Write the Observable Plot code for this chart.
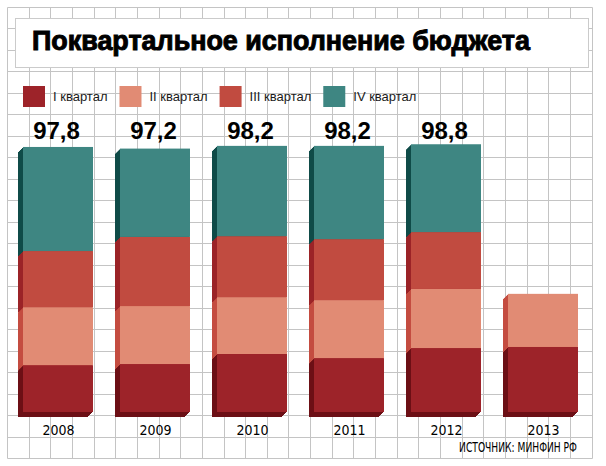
<!DOCTYPE html>
<html>
<head>
<meta charset="utf-8">
<script src="https://cdn.jsdelivr.net/npm/d3@7"></script>
<script src="https://cdn.jsdelivr.net/npm/@observablehq/plot@0.6"></script>
<style>
  html, body { margin: 0; padding: 0; background: #fff; }
  #wrap { position: relative; width: 606px; height: 466px; overflow: hidden; background: #fff; }
  #wrap > svg { position: absolute; left: 0; }
</style>
</head>
<body>
<div id="wrap"></div>
<script>
// ---------- data ----------
const years = ["2008", "2009", "2010", "2011", "2012", "2013"];
const quarters = ["I квартал", "II квартал", "III квартал", "IV квартал"];
const q1 = [17.3, 17.7, 21.4, 19.9, 23.6, 24.0];
const q2 = [21.4, 21.4, 21.0, 21.4, 21.8, 19.6];
const q3 = [20.7, 25.5, 22.5, 22.5, 21.0, null];
const q4 = [38.4, 32.6, 33.3, 34.4, 32.4, null];
const totalYears = ["2008", "2009", "2010", "2011", "2012"];
const totals = [97.8, 97.2, 98.2, 98.2, 98.8];
const titleText = "Поквартальное исполнение бюджета";
const sourceText = "ИСТОЧНИК: МИНФИН РФ";

// colours
const frontColors = ["#9d2329", "#e18b74", "#c14b40", "#3e8682"];
const sideColors  = ["#6c0f15", "#c44c40", "#9b2327", "#0f4b48"];

// ---------- table (stacked) ----------
const series = [q1, q2, q3, q4];
const rows = [];
years.forEach((year, yi) => {
  let acc = 0;
  series.forEach((s, qi) => {
    const v = s[yi];
    if (v == null) return;
    rows.push({year, quarter: quarters[qi], qi, value: v, y1: acc, y2: acc + v});
    acc += v;
  });
});
const labels = totalYears.map((year, i) => ({year, total: totals[i]}));
const fmt = v => v.toFixed(1).replace(".", ",");

const wrap = d3.select("#wrap");

// ---------- background grid (decoration) ----------
const grid = wrap.append("svg").attr("width", 606).attr("height", 466).style("top", "0px");
const gx = d3.range(28).map(i => Math.round(7 + 21.65 * i) + 0.5);
const gy = d3.range(22).map(j => Math.round(6.5 + 21.5 * j) + 0.5);
grid.append("g").attr("stroke", "#c4c4c4").attr("stroke-width", 1)
  .call(g => g.selectAll("line.v").data(gx).join("line")
    .attr("x1", d => d).attr("x2", d => d).attr("y1", gy[0]).attr("y2", gy[gy.length - 1]))
  .call(g => g.selectAll("line.h").data(gy).join("line")
    .attr("y1", d => d).attr("y2", d => d).attr("x1", gx[0]).attr("x2", gx[gx.length - 1]));

// ---------- chart ----------
const depth = [5, 4, 3, 2, 1];
const sideMarks = [];
depth.forEach(k => {
  quarters.forEach((q, qi) => {
    sideMarks.push(Plot.barY(rows.filter(r => r.qi === qi), {
      x: "year", y1: "y1", y2: "y2", fill: sideColors[qi], dx: -k, dy: k
    }));
  });
});

const chart = Plot.plot({
  width: 606,
  height: 356,
  marginLeft: 23,
  marginRight: 28,
  marginTop: 31,
  marginBottom: 54,
  style: {background: "transparent", color: "#000", fontFamily: "'Liberation Sans Narrow', 'DejaVu Sans Condensed', 'Arial Narrow', sans-serif", fontSize: "14px", overflow: "visible"},
  x: {type: "band", domain: years, paddingInner: 27 / 97, paddingOuter: 0, tickSize: 0, tickPadding: 13, label: null},
  y: {domain: [0, 100], axis: null},
  color: {domain: quarters, range: frontColors},
  marks: [
    ...sideMarks,
    Plot.barY(rows, {x: "year", y1: "y1", y2: "y2", fill: "quarter"}),
    Plot.text(labels, {
      x: "year", text: d => fmt(d.total), frameAnchor: "top", lineAnchor: "bottom", dy: -3, dx: -2,
      fontSize: 24, fontWeight: "bold", fontFamily: "'Liberation Sans', Arial, sans-serif", fill: "#000"
    })
  ]
});
chart.style.top = "110px";
wrap.node().appendChild(chart);

// ---------- title, legend, source (overlay) ----------
const ov = wrap.append("svg").attr("width", 606).attr("height", 466).style("top", "0px");
ov.append("rect").attr("x", 15.5).attr("y", 18.5).attr("width", 573).attr("height", 49)
  .attr("fill", "#fff").attr("stroke", "#cbcbcb");
ov.append("text").attr("x", 32).attr("y", 50)
  .attr("font-family", "'Liberation Sans', Arial, sans-serif").attr("font-weight", "bold")
  .attr("font-size", 28).attr("fill", "#000").attr("stroke", "#000").attr("stroke-width", 1)
  .attr("textLength", 498).attr("lengthAdjust", "spacingAndGlyphs")
  .text(titleText);

let lx = 23;
quarters.forEach((q, i) => {
  ov.append("rect").attr("x", lx).attr("y", 86).attr("width", 22).attr("height", 21).attr("fill", frontColors[i]);
  const t = ov.append("text").attr("x", lx + 30).attr("y", 101)
    .attr("font-family", "'Liberation Sans', Arial, sans-serif").attr("font-size", 13)
    .attr("fill", "#1a1a1a").text(q);
  lx += 30 + t.node().getComputedTextLength() + 12;
});

const src = ov.append("text").attr("text-anchor", "end")
  .attr("font-family", "'Liberation Sans Narrow', 'DejaVu Sans Condensed', 'Arial Narrow', sans-serif")
  .attr("font-size", 13.5).attr("fill", "#000")
  .text(sourceText);
const sw = src.node().getComputedTextLength() || 118;
src.attr("transform", `translate(577,452) scale(${Math.min(1, 118 / sw)},1)`);
</script>
</body>
</html>
